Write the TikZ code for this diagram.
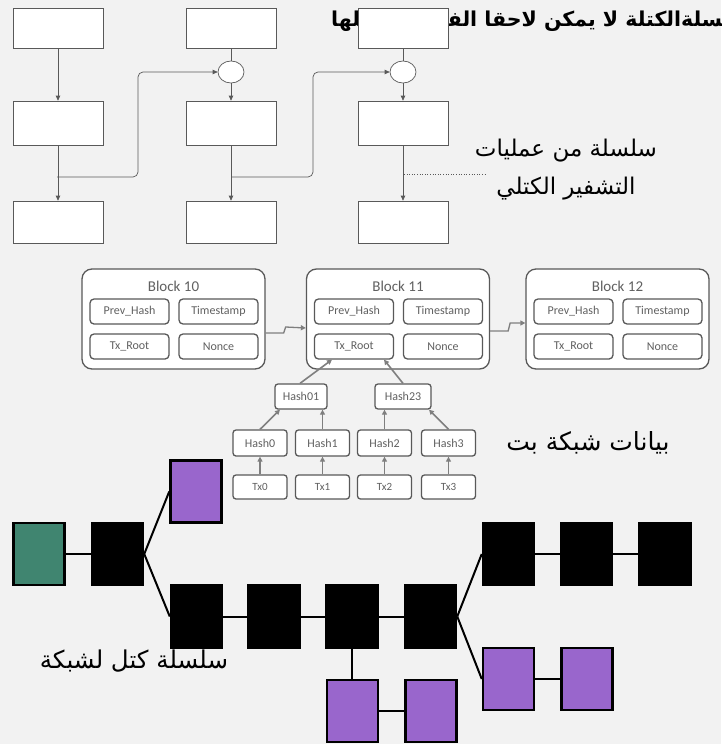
\documentclass[tikz,border=0pt]{standalone}
\usepackage{fontspec}
\usetikzlibrary{shapes.geometric,arrows.meta,calc}
\TeXXeTstate=1
\newfontfamily\arabicfont[Script=Arabic]{DejaVu Sans}
\newfontfamily\calib{Carlito}
\definecolor{bgcol}{HTML}{F2F2F2}
\definecolor{grn}{HTML}{408570}
\definecolor{purp}{HTML}{9966CC}
\definecolor{edgegray}{HTML}{595959}
\definecolor{txtgray}{HTML}{606060}
\definecolor{arrgray}{HTML}{7F7F7F}
\tikzset{
  topbox/.style={draw=edgegray,fill=white,line width=0.7pt,minimum width=90pt,inner sep=0pt},
  topcirc/.style={ellipse,draw=edgegray,fill=white,line width=0.7pt,minimum width=26pt,minimum height=22pt,inner sep=0pt},
  toparr/.style={draw=edgegray,line width=0.7pt,-{Triangle[length=5pt,width=4.5pt]}},
  topline/.style={draw=edgegray,line width=0.7pt},
  blockbox/.style={draw=edgegray,fill=white,line width=1.3pt,rounded corners=10pt,minimum width=183pt,minimum height=100pt,inner sep=0pt},
  field/.style={draw=edgegray,fill=white,line width=1.3pt,rounded corners=4pt,minimum width=79pt,minimum height=25pt,inner sep=0pt,font=\calib\fontsize{12}{14}\selectfont,text=txtgray},
  mbox/.style={draw=edgegray,fill=white,line width=1.3pt,rounded corners=3pt,minimum width=54pt,minimum height=25pt,inner sep=0pt,font=\calib\fontsize{12}{14}\selectfont,text=txtgray},
  marr/.style={draw=arrgray,line width=1.6pt,-{Triangle[length=5pt,width=5pt]}},
  btitle/.style={font=\calib\fontsize{15}{17}\selectfont,text=txtgray},
  chainbox/.style={minimum width=51pt,minimum height=62pt,inner sep=0pt,line width=2.5pt,draw=black},
  kblk/.style={chainbox,fill=black},
  pblk/.style={chainbox,fill=purp},
  gblk/.style={chainbox,fill=grn},
  cline/.style={draw=black,line width=2pt},
  artext/.style={font=\arabicfont\fontsize{23}{27}\selectfont,inner sep=0pt},
}
\begin{document}
\begin{tikzpicture}[x=1pt,y=-1pt]
\fill[bgcol] (0,0) rectangle (721,744);
\useasboundingbox (0,0) rectangle (721,744);

% ---------- top section ----------
\node[font=\arabicfont\bfseries\fontsize{20.5}{24}\selectfont,anchor=west,inner sep=0pt] (title) at (331,21)
  {\beginR سلسلةالكتلة لا يمكن لاحقا الفصل بداخلها\endR};

\node[topbox,minimum height=40pt] (a1) at (58,28) {};
\node[topbox,minimum height=44pt] (a2) at (58,123) {};
\node[topbox,minimum height=42pt] (a3) at (58,222) {};
\node[topbox,minimum height=40pt] (b1) at (231,28) {};
\node[topbox,minimum height=44pt] (b2) at (231,123) {};
\node[topbox,minimum height=42pt] (b3) at (231,222) {};
\node[topbox,minimum height=40pt] (c1) at (403,28) {};
\node[topbox,minimum height=44pt] (c2) at (403,123) {};
\node[topbox,minimum height=42pt] (c3) at (403,222) {};
\node[topcirc] (o1) at (231,72) {};
\node[topcirc] (o2) at (403,72) {};

\draw[toparr] (a1) -- (a2);
\draw[toparr] (a2) -- (a3);
\draw[topline] (b1) -- (o1);
\draw[toparr] (o1) -- (b2);
\draw[toparr] (b2) -- (b3);
\draw[topline] (c1) -- (o2);
\draw[toparr] (o2) -- (c2);
\draw[toparr] (c2) -- (c3);

\coordinate (j1) at (57,177);
\coordinate (j2) at (231,177);
\draw[toparr,rounded corners=5pt] (j1) -- (138,177) -- (138,72) -- (o1.west);
\draw[toparr,rounded corners=5pt] (j2) -- (313,177) -- (313,72) -- (o2.west);
\coordinate (d1) at (404,174);
\coordinate (d2) at (485,174);
\draw[edgegray,dotted,line width=0.6pt] (d1) -- (d2);

\node[artext] (t1) at (566,151) {\beginR سلسلة من عمليات\endR};
\node[artext] (t2) at (566,189) {\beginR التشفير الكتلي\endR};

% ---------- middle section ----------
\node[blockbox] (k10) at (173.5,319) {};
\node[blockbox] (k11) at (398,319) {};
\node[blockbox] (k12) at (617.5,319) {};
\foreach \n/\x in {10/173.5,11/398,12/617.5}{
  \node[btitle] (bt\n) at (\x,286) {Block \n};
  \node[field] (ph\n) at (\x-44,311.5) {Prev\_Hash};
  \node[field] (ts\n) at (\x+45,311.5) {Timestamp};
  \node[field] (tr\n) at (\x-44,346.5) {Tx\_Root};
  \node[field] (nc\n) at (\x+45,346.5) {Nonce};
}
\draw[marr,line width=1.3pt] ([yshift=-14pt]k10.east) -- ++(18,0) -- ++(2,-6) -- ([yshift=-9pt]k11.west);
\draw[marr,line width=1.3pt] ([yshift=-12pt]k11.east) -- ++(18,0) -- ++(2,-8) -- ([yshift=-4pt]k12.west);

\node[mbox,minimum width=52pt] (h01) at (301,396.5) {Hash01};
\node[mbox,minimum width=56pt] (h23) at (403,396.5) {Hash23};
\node[mbox,minimum height=26pt] (h0) at (260,443) {Hash0};
\node[mbox,minimum height=26pt] (h1) at (322.5,443) {Hash1};
\node[mbox,minimum height=26pt] (h2) at (384.5,443) {Hash2};
\node[mbox,minimum height=26pt] (h3) at (448.5,443) {Hash3};
\node[mbox,minimum height=24pt,font=\calib\fontsize{11}{13}\selectfont] (x0) at (260,487) {Tx0};
\node[mbox,minimum height=24pt,font=\calib\fontsize{11}{13}\selectfont] (x1) at (322.5,487) {Tx1};
\node[mbox,minimum height=24pt,font=\calib\fontsize{11}{13}\selectfont] (x2) at (384.5,487) {Tx2};
\node[mbox,minimum height=24pt,font=\calib\fontsize{11}{13}\selectfont] (x3) at (448.5,487) {Tx3};

\draw[marr] ([xshift=-1pt]h01.north) -- ([xshift=-22pt]tr11.south);
\draw[marr] (h23.north) -- ([xshift=30pt]tr11.south);
\draw[marr] (h0.north) -- ([xshift=-21pt]h01.south);
\draw[marr] (h1.north) -- (h1.north |- h01.south);
\draw[marr] (h2.north) -- (h2.north |- h23.south);
\draw[marr] (h3.north) -- ([xshift=26pt]h23.south);
\foreach \i in {0,1,2,3}{
  \draw[marr] (x\i.north) -- (h\i.south);
}

\node[artext,font=\arabicfont\fontsize{25}{29}\selectfont] (t3) at (588,443) {\beginR بيانات شبكة بت\endR};

% ---------- bottom section ----------
\node[gblk] (g) at (39,554) {};
\node[kblk] (k1) at (117.5,554) {};
\node[pblk] (pt) at (196,491.5) {};
\node[kblk] (m1) at (196.5,616.5) {};
\node[kblk] (m2) at (274,616.5) {};
\node[kblk] (m3) at (352,616.5) {};
\node[kblk] (m4) at (430.5,616.5) {};
\node[kblk] (r1) at (508.5,554) {};
\node[kblk] (r2) at (586.5,554) {};
\node[kblk] (r3) at (665,554) {};
\node[pblk] (pr1) at (508.5,679) {};
\node[pblk] (pr2) at (587,679) {};
\node[pblk] (pb1) at (352.5,711) {};
\node[pblk] (pb2) at (431,711) {};

\draw[cline] (g) -- (k1);
\draw[cline] (k1.east) -- (pt.west);
\draw[cline] (k1.east) -- (m1.west);
\draw[cline] (m1) -- (m2);
\draw[cline] (m2) -- (m3);
\draw[cline] (m3) -- (m4);
\draw[cline] (m4.east) -- (r1.west);
\draw[cline] (m4.east) -- (pr1.west);
\draw[cline] (r1) -- (r2);
\draw[cline] (r2) -- (r3);
\draw[cline] (pr1) -- (pr2);
\draw[cline] (m3.south) -- (m3.south |- pb1.north);
\draw[cline] (pb1) -- (pb2);

\node[artext,font=\arabicfont\fontsize{24.5}{28}\selectfont] (t4) at (134,661) {\beginR سلسلة كتل لشبكة\endR};
\end{tikzpicture}
\end{document}
